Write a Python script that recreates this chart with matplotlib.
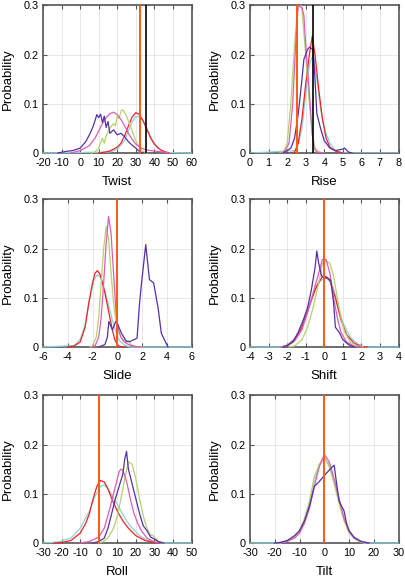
import matplotlib
matplotlib.use("Agg")
import matplotlib.pyplot as plt

plt.rcParams['font.family'] = ['Liberation Sans', 'DejaVu Sans']
plt.rcParams['axes.unicode_minus'] = False

# colours of the five distributions
c_purple = '#5530a8'
c_pink = '#e05cb4'
c_green = '#b4d26e'
c_red = '#ee2424'
c_cyan = '#8fd2da'
c_orange = '#ff5a14'

# ---- Twist ----
twist_purple_x = [-12, -8, -4, 0, 3, 5, 7, 9, 10, 11, 12, 13, 14, 15, 16, 18, 20, 22, 24, 26, 28, 30, 32, 34]
twist_purple_y = [0, 0.003, 0.005, 0.01, 0.023, 0.037, 0.054, 0.078, 0.072, 0.079, 0.062, 0.075, 0.052, 0.064, 0.04, 0.047, 0.037, 0.04, 0.033, 0.023, 0.016, 0.01, 0.003, 0]
twist_pink_x = [-5, 0, 5, 8, 10, 12, 14, 16, 18, 20, 22, 24, 26, 28, 30, 33, 36, 40, 45, 48]
twist_pink_y = [0, 0.005, 0.015, 0.03, 0.045, 0.06, 0.072, 0.08, 0.083, 0.078, 0.068, 0.055, 0.04, 0.028, 0.018, 0.01, 0.006, 0.004, 0.002, 0]
twist_green_x = [6, 8, 10, 12, 13, 14, 16, 18, 19, 20, 21, 22, 23, 24, 25, 26, 28, 30, 32, 34, 36]
twist_green_y = [0, 0.002, 0.01, 0.03, 0.02, 0.035, 0.05, 0.06, 0.055, 0.075, 0.07, 0.085, 0.088, 0.082, 0.075, 0.065, 0.045, 0.025, 0.01, 0.003, 0]
twist_red_x = [10, 12, 16, 20, 22, 24, 26, 28, 30, 32, 34, 36, 38, 40, 42, 44, 46, 48]
twist_red_y = [0, 0.001, 0.004, 0.012, 0.02, 0.035, 0.055, 0.073, 0.082, 0.078, 0.065, 0.048, 0.03, 0.018, 0.01, 0.005, 0.002, 0]
twist_cyan_x = [-20, 16, 20, 24, 26, 28, 30, 32, 34, 36, 38, 40, 42, 44, 48, 60]
twist_cyan_y = [0, 0.002, 0.008, 0.025, 0.045, 0.063, 0.074, 0.074, 0.065, 0.05, 0.033, 0.02, 0.011, 0.005, 0.001, 0]
twist_orange = 32.4
twist_black = 35.7

# ---- Rise ----
rise_purple_x = [1.8, 2.0, 2.2, 2.4, 2.6, 2.8, 2.9, 3.1, 3.2, 3.4, 3.5, 3.6, 3.8, 4.0, 4.3, 4.6, 5.0, 5.1, 5.3, 5.5]
rise_purple_y = [0, 0.005, 0.01, 0.03, 0.08, 0.15, 0.19, 0.21, 0.215, 0.21, 0.15, 0.08, 0.05, 0.025, 0.01, 0.005, 0.008, 0.01, 0.002, 0]
rise_pink_x = [1.7, 1.9, 2.1, 2.3, 2.5, 2.6, 2.8, 2.9, 3.0, 3.2, 3.35, 3.45, 3.6, 4.0]
rise_pink_y = [0, 0.005, 0.02, 0.1, 0.25, 0.3, 0.295, 0.28, 0.22, 0.12, 0.04, 0.01, 0.002, 0]
rise_green_x = [1.6, 1.8, 2.0, 2.2, 2.4, 2.6, 2.7, 2.8, 3.0, 3.2, 3.35, 3.5, 3.7, 4.0]
rise_green_y = [0, 0.002, 0.02, 0.1, 0.22, 0.31, 0.31, 0.29, 0.2, 0.1, 0.04, 0.01, 0.002, 0]
rise_red_x = [2.2, 2.4, 2.6, 2.8, 3.0, 3.2, 3.35, 3.5, 3.7, 3.9, 4.1, 4.3, 4.6, 5.0]
rise_red_y = [0, 0.002, 0.02, 0.07, 0.14, 0.2, 0.237, 0.2, 0.13, 0.07, 0.03, 0.012, 0.004, 0]
rise_cyan_x = [0, 2.5, 2.8, 3.0, 3.2, 3.4, 3.6, 3.8, 4.0, 4.3, 4.6, 5.0, 8]
rise_cyan_y = [0, 0.005, 0.05, 0.12, 0.18, 0.2, 0.15, 0.09, 0.05, 0.02, 0.005, 0, 0]
rise_orange = 2.52
rise_black = 3.38

# ---- Slide ----
slide_purple_x = [-1.5, -1.0, -0.8, -0.68, -0.39, -0.12, 0.05, 0.34, 0.74, 1.0, 1.27, 1.6, 1.8, 1.95, 2.3, 2.6, 2.94, 3.3, 3.56, 3.96, 4.1]
slide_purple_y = [0, 0.005, 0.02, 0.052, 0.035, 0.052, 0.045, 0.028, 0.011, 0.011, 0.014, 0.018, 0.089, 0.127, 0.208, 0.137, 0.13, 0.079, 0.028, 0.007, 0]
slide_pink_x = [-2.0, -1.8, -1.5, -1.3, -1.1, -0.9, -0.7, -0.5, -0.3, -0.1, 0.1, 0.3, 0.5, 0.7, 1.0, 1.5, 2.0]
slide_pink_y = [0, 0.002, 0.02, 0.06, 0.13, 0.21, 0.265, 0.23, 0.15, 0.07, 0.035, 0.02, 0.012, 0.008, 0.004, 0.001, 0]
slide_green_x = [-2.2, -2.0, -1.7, -1.5, -1.3, -1.1, -0.9, -0.7, -0.5, -0.3, -0.1, 0.1, 0.3, 0.5, 0.7, 0.9, 1.1, 1.5, 2.0]
slide_green_y = [0, 0.002, 0.02, 0.06, 0.13, 0.2, 0.245, 0.22, 0.15, 0.09, 0.05, 0.03, 0.02, 0.015, 0.012, 0.013, 0.005, 0.001, 0]
slide_red_x = [-4.0, -3.5, -3.0, -2.6, -2.3, -2.0, -1.8, -1.6, -1.4, -1.2, -1.0, -0.8, -0.6, -0.4, -0.2, 0, 0.2, 0.5]
slide_red_y = [0, 0.002, 0.01, 0.04, 0.09, 0.13, 0.15, 0.155, 0.148, 0.13, 0.11, 0.085, 0.06, 0.035, 0.015, 0.005, 0.001, 0]
slide_cyan_x = [-6, -3.5, -3.0, -2.6, -2.2, -1.9, -1.6, -1.3, -1.0, -0.7, -0.4, -0.1, 0.2, 0.6, 1.0, 6]
slide_cyan_y = [0, 0.003, 0.015, 0.045, 0.1, 0.135, 0.147, 0.14, 0.115, 0.085, 0.055, 0.03, 0.012, 0.004, 0, 0]
slide_orange = 0.0

# ---- Shift ----
shift_purple_x = [-2.2, -2.0, -1.7, -1.4, -1.1, -0.9, -0.7, -0.5, -0.4, -0.3, -0.15, 0, 0.2, 0.35, 0.5, 0.6, 0.8, 1.0, 1.3, 1.6]
shift_purple_y = [0, 0.003, 0.01, 0.03, 0.058, 0.08, 0.115, 0.16, 0.195, 0.17, 0.145, 0.14, 0.14, 0.135, 0.09, 0.04, 0.03, 0.015, 0.005, 0]
shift_pink_x = [-2.3, -2.0, -1.6, -1.2, -0.9, -0.6, -0.3, -0.1, 0.1, 0.3, 0.5, 0.7, 0.9, 1.2, 1.6, 2.0]
shift_pink_y = [0, 0.002, 0.012, 0.035, 0.07, 0.11, 0.15, 0.178, 0.178, 0.15, 0.1, 0.06, 0.03, 0.01, 0.002, 0]
shift_green_x = [-1.9, -1.6, -1.2, -0.9, -0.6, -0.3, -0.1, 0.1, 0.3, 0.5, 0.7, 0.9, 1.1, 1.4, 1.8, 2.1]
shift_green_y = [0, 0.002, 0.015, 0.04, 0.08, 0.13, 0.17, 0.175, 0.17, 0.145, 0.1, 0.06, 0.03, 0.01, 0.002, 0]
shift_red_x = [-2.3, -2.0, -1.6, -1.2, -0.8, -0.4, -0.1, 0.1, 0.3, 0.6, 0.9, 1.2, 1.6, 2.0, 2.3]
shift_red_y = [0, 0.003, 0.015, 0.04, 0.085, 0.125, 0.143, 0.143, 0.135, 0.1, 0.055, 0.025, 0.008, 0.001, 0]
shift_cyan_x = [-4, -2.4, -2.0, -1.5, -1.0, -0.5, -0.2, 0.1, 0.4, 0.7, 1.0, 1.4, 1.8, 2.2, 4]
shift_cyan_y = [0, 0, 0.004, 0.02, 0.06, 0.115, 0.135, 0.14, 0.13, 0.09, 0.05, 0.02, 0.006, 0, 0]
shift_orange = 0.0

# ---- Roll ----
roll_purple_x = [-3, 0, 3, 5, 7, 9, 11, 13, 14, 15, 16, 18, 20, 22, 24, 26, 28, 30, 32, 35]
roll_purple_y = [0, 0.003, 0.01, 0.03, 0.06, 0.09, 0.115, 0.14, 0.17, 0.186, 0.15, 0.12, 0.09, 0.06, 0.035, 0.025, 0.012, 0.008, 0.003, 0]
roll_pink_x = [-10, -5, 0, 3, 6, 9, 11, 12, 13, 15, 17, 19, 21, 23, 26, 29, 32]
roll_pink_y = [0, 0.003, 0.012, 0.03, 0.07, 0.115, 0.145, 0.15, 0.148, 0.125, 0.09, 0.06, 0.04, 0.025, 0.01, 0.004, 0]
roll_green_x = [0, 2, 5, 8, 10, 12, 14, 16, 18, 20, 22, 24, 26, 28, 29, 30, 32, 35]
roll_green_y = [0, 0.002, 0.01, 0.03, 0.055, 0.09, 0.13, 0.165, 0.16, 0.13, 0.09, 0.055, 0.03, 0.015, 0.016, 0.012, 0.004, 0]
roll_red_x = [-24, -20, -15, -10, -7, -5, -3, -1, 1, 3, 5, 7, 10, 13, 16, 20, 25, 30, 33]
roll_red_y = [0, 0.001, 0.005, 0.02, 0.04, 0.06, 0.09, 0.115, 0.127, 0.124, 0.11, 0.09, 0.065, 0.045, 0.03, 0.015, 0.005, 0.001, 0]
roll_cyan_x = [-30, -22, -15, -10, -5, -2, 1, 3, 6, 9, 12, 15, 18, 22, 26, 30, 34, 50]
roll_cyan_y = [0, 0.002, 0.01, 0.03, 0.065, 0.095, 0.115, 0.118, 0.105, 0.085, 0.065, 0.045, 0.03, 0.015, 0.006, 0.002, 0, 0]
roll_orange = 0.0

# ---- Tilt ----
tilt_purple_x = [-20, -18, -15, -12, -10, -8, -6, -4, -2, 0, 2, 4, 5, 6, 7, 8, 9, 10, 12, 15, 18]
tilt_purple_y = [0, 0.001, 0.005, 0.015, 0.025, 0.045, 0.075, 0.115, 0.125, 0.137, 0.148, 0.158, 0.12, 0.085, 0.075, 0.065, 0.04, 0.025, 0.012, 0.003, 0]
tilt_pink_x = [-18, -15, -12, -10, -8, -6, -4, -2, 0, 2, 4, 6, 8, 10, 12, 15, 18]
tilt_pink_y = [0, 0.003, 0.01, 0.02, 0.04, 0.07, 0.115, 0.155, 0.18, 0.165, 0.13, 0.09, 0.05, 0.025, 0.01, 0.003, 0]
tilt_green_x = [-18, -15, -12, -10, -8, -6, -4, -2, 0, 2, 4, 6, 8, 10, 13, 16]
tilt_green_y = [0, 0.004, 0.012, 0.025, 0.05, 0.085, 0.135, 0.16, 0.175, 0.155, 0.12, 0.08, 0.045, 0.02, 0.006, 0]
tilt_cyan_x = [-30, -18, -15, -12, -10, -8, -6, -4, -2, 0, 2, 4, 6, 8, 10, 13, 16, 30]
tilt_cyan_y = [0, 0, 0.004, 0.012, 0.022, 0.045, 0.08, 0.125, 0.158, 0.172, 0.16, 0.125, 0.085, 0.048, 0.022, 0.006, 0, 0]
tilt_orange = 0.0

fig = plt.figure(figsize=(4.05, 5.77), dpi=100)

col_left = [0.1062, 0.6173]
col_width = 0.3667
row_bottom = [0.7348, 0.3986, 0.0589]
row_height = 0.2560


def panel(col, row, label, xlim, xstep, curves, orange, black=None, clip=False):
    ax = fig.add_axes([col_left[col], row_bottom[row], col_width, row_height])
    # cyan, red, green, pink, purple -- drawn in that order
    for (xs, ys), col_ in curves:
        ax.plot(xs, ys, color=col_, lw=0.9, zorder=3, clip_on=clip)
    ax.axvline(orange, color=c_orange, lw=1.4, zorder=4)
    if black is not None:
        ax.axvline(black, color='black', lw=1.2, zorder=4)
    ax.set_xlim(*xlim)
    ax.set_ylim(0, 0.3)
    ax.set_xticks(range(xlim[0], xlim[1] + 1, xstep))
    ax.set_yticks([0, 0.1, 0.2, 0.3])
    ax.set_yticklabels(['0', '0.1', '0.2', '0.3'])
    ax.grid(True, color='#e4e4e4', lw=0.6)
    ax.set_axisbelow(True)
    ax.tick_params(axis='x', direction='in', top=True, length=3, width=0.8,
                   color='#555555', labelsize=7.8, pad=3.5)
    ax.tick_params(axis='y', direction='in', length=3, width=0.8,
                   color='#555555', labelsize=7.8, pad=3)
    for s in ax.spines.values():
        s.set_color('#555555')
        s.set_linewidth(1.2)
        s.set_zorder(2)
    ax.set_xlabel(label, fontsize=9.5, labelpad=5.5)
    ax.set_ylabel('Probability', fontsize=9.5, labelpad=7)
    return ax


panel(0, 0, 'Twist', (-20, 60), 10,
      [((twist_cyan_x, twist_cyan_y), c_cyan), ((twist_red_x, twist_red_y), c_red),
       ((twist_green_x, twist_green_y), c_green), ((twist_pink_x, twist_pink_y), c_pink),
       ((twist_purple_x, twist_purple_y), c_purple)],
      twist_orange, twist_black)

panel(1, 0, 'Rise', (0, 8), 1,
      [((rise_cyan_x, rise_cyan_y), c_cyan), ((rise_red_x, rise_red_y), c_red),
       ((rise_green_x, rise_green_y), c_green), ((rise_pink_x, rise_pink_y), c_pink),
       ((rise_purple_x, rise_purple_y), c_purple)],
      rise_orange, rise_black, clip=True)

panel(0, 1, 'Slide', (-6, 6), 2,
      [((slide_cyan_x, slide_cyan_y), c_cyan), ((slide_red_x, slide_red_y), c_red),
       ((slide_green_x, slide_green_y), c_green), ((slide_pink_x, slide_pink_y), c_pink),
       ((slide_purple_x, slide_purple_y), c_purple)],
      slide_orange)

panel(1, 1, 'Shift', (-4, 4), 1,
      [((shift_cyan_x, shift_cyan_y), c_cyan), ((shift_red_x, shift_red_y), c_red),
       ((shift_green_x, shift_green_y), c_green), ((shift_pink_x, shift_pink_y), c_pink),
       ((shift_purple_x, shift_purple_y), c_purple)],
      shift_orange)

panel(0, 2, 'Roll', (-30, 50), 10,
      [((roll_cyan_x, roll_cyan_y), c_cyan), ((roll_red_x, roll_red_y), c_red),
       ((roll_green_x, roll_green_y), c_green), ((roll_pink_x, roll_pink_y), c_pink),
       ((roll_purple_x, roll_purple_y), c_purple)],
      roll_orange)

panel(1, 2, 'Tilt', (-30, 30), 10,
      [((tilt_cyan_x, tilt_cyan_y), c_cyan),
       ((tilt_green_x, tilt_green_y), c_green), ((tilt_pink_x, tilt_pink_y), c_pink),
       ((tilt_purple_x, tilt_purple_y), c_purple)],
      tilt_orange)

fig.savefig('out.png', dpi=100)
